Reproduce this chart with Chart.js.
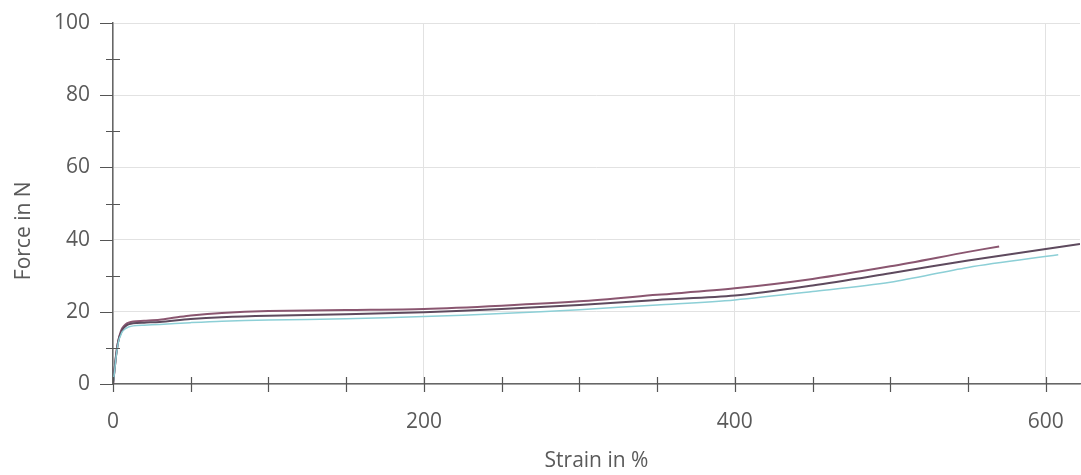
<!DOCTYPE html>
<html>
<head>
<meta charset="utf-8">
<script src="https://cdn.jsdelivr.net/npm/chart.js@4"></script>
<style>
  html, body { margin: 0; padding: 0; background: #fff; }
  #wrap { width: 1081px; height: 475px; }
</style>
</head>
<body>
<div id="wrap"><canvas id="c" width="1081" height="475"></canvas></div>
<script>
// ---- data ----
const strainA = [0, 1, 2, 3, 4, 5, 6, 8, 10, 13, 20, 30, 40, 50, 70, 100, 150, 200, 250, 300, 350, 400, 450, 500, 550, 570];
const forceA  = [0, 4, 8, 11, 13, 14.5, 15.5, 16.5, 17, 17.3, 17.5, 17.8, 18.4, 19, 19.7, 20.2, 20.5, 20.8, 21.7, 22.9, 24.7, 26.5, 29.1, 32.6, 36.6, 38.1];

const strainB = [0, 1, 2, 3, 4, 5, 6, 8, 10, 13, 20, 30, 50, 70, 100, 150, 200, 250, 300, 350, 400, 450, 500, 550, 600, 622];
const forceB  = [0, 4, 8, 11, 13, 14, 15, 16, 16.5, 16.8, 17, 17.2, 18, 18.5, 18.9, 19.3, 19.9, 20.8, 21.9, 23.3, 24.5, 27.3, 30.7, 34.2, 37.4, 38.8];

const strainC = [0, 1, 2, 3, 4, 5, 6, 8, 10, 13, 20, 30, 50, 70, 100, 150, 200, 250, 300, 350, 400, 450, 500, 550, 608];
const forceC  = [0, 3.5, 7.5, 10.5, 12.5, 13.5, 14.5, 15.3, 15.8, 16.1, 16.3, 16.5, 17, 17.4, 17.7, 18.1, 18.7, 19.5, 20.6, 21.9, 23.3, 25.6, 28.2, 32.3, 35.8];

const xTickValues = [0, 200, 400, 600];
const yTickValues = [0, 20, 40, 60, 80, 100];
const xMinorTicks = [0, 50, 100, 150, 200, 250, 300, 350, 400, 450, 500, 550, 600];
const yMinorTicks = [10, 30, 50, 70, 90];

const xTitle = 'Strain in %';
const yTitle = 'Force in N';

function pts(xs, ys) { return xs.map((x, i) => ({ x: x, y: ys[i] })); }

const FONT = '"Open Sans", "Noto Sans", sans-serif';

const minorTicks = {
  id: 'minorTicks',
  afterDraw(chart) {
    const ctx = chart.ctx;
    const xs = chart.scales.x, ys = chart.scales.y;
    const ca = chart.chartArea;
    ctx.save();
    ctx.strokeStyle = '#555';
    ctx.lineWidth = 1.2;
    ctx.beginPath();
    xMinorTicks.forEach(v => {
      const px = Math.round(xs.getPixelForValue(v)) + 0.5;
      ctx.moveTo(px, ca.bottom - 7);
      ctx.lineTo(px, ca.bottom + 8);
    });
    yMinorTicks.forEach(v => {
      const py = Math.round(ys.getPixelForValue(v)) + 0.5;
      ctx.moveTo(ca.left - 7, py);
      ctx.lineTo(ca.left + 7, py);
    });
    yTickValues.forEach(v => {
      const py = Math.round(ys.getPixelForValue(v)) + 0.5;
      ctx.moveTo(ca.left - 13, py);
      ctx.lineTo(ca.left, py);
    });
    ctx.stroke();
    ctx.restore();
  }
};

new Chart(document.getElementById('c'), {
  type: 'line',
  data: {
    datasets: [
      { label: 'C', data: pts(strainC, forceC), borderColor: '#8ccfd6', borderWidth: 1.5 },
      { label: 'B', data: pts(strainB, forceB), borderColor: '#5e4a5e', borderWidth: 2 },
      { label: 'A', data: pts(strainA, forceA), borderColor: '#8a5670', borderWidth: 2 }
    ]
  },
  options: {
    responsive: false,
    animation: false,
    layout: { padding: { top: 23, right: 1, bottom: 0, left: 0 } },
    elements: { point: { radius: 0 }, line: { tension: 0.3, fill: false } },
    plugins: { legend: { display: false }, tooltip: { enabled: false } },
    scales: {
      x: {
        type: 'linear',
        min: 0, max: 622,
        afterBuildTicks(s) { s.ticks = xTickValues.map(v => ({ value: v })); },
        afterFit(s) { s.height = 91; s.paddingLeft = 0; s.paddingRight = 0; },
        ticks: { padding: 25, color: '#5a5a5a', font: { family: FONT, size: 21, weight: 400 }, maxRotation: 0 },
        grid: { color: '#e2e2e2', lineWidth: 1, drawTicks: false },
        border: { display: true, color: '#666', width: 1.5 },
        title: { display: true, text: xTitle, color: '#5a5a5a', font: { family: FONT, size: 21, weight: 400 }, padding: { top: 0, bottom: 1 } }
      },
      y: {
        type: 'linear',
        min: 0, max: 100,
        afterBuildTicks(s) { s.ticks = yTickValues.map(v => ({ value: v })); },
        afterFit(s) { s.width = 113; s.paddingTop = 0; s.paddingBottom = 0; },
        ticks: { padding: 23, color: '#5a5a5a', font: { family: FONT, size: 21, weight: 400 } },
        grid: { color: '#e2e2e2', lineWidth: 1, drawTicks: false },
        border: { display: true, color: '#666', width: 1.5 },
        title: { display: true, text: yTitle + '          ', color: '#5a5a5a', font: { family: FONT, size: 21, weight: 400 }, padding: { top: 11, bottom: 0 } }
      }
    }
  },
  plugins: [minorTicks]
});
</script>
</body>
</html>
